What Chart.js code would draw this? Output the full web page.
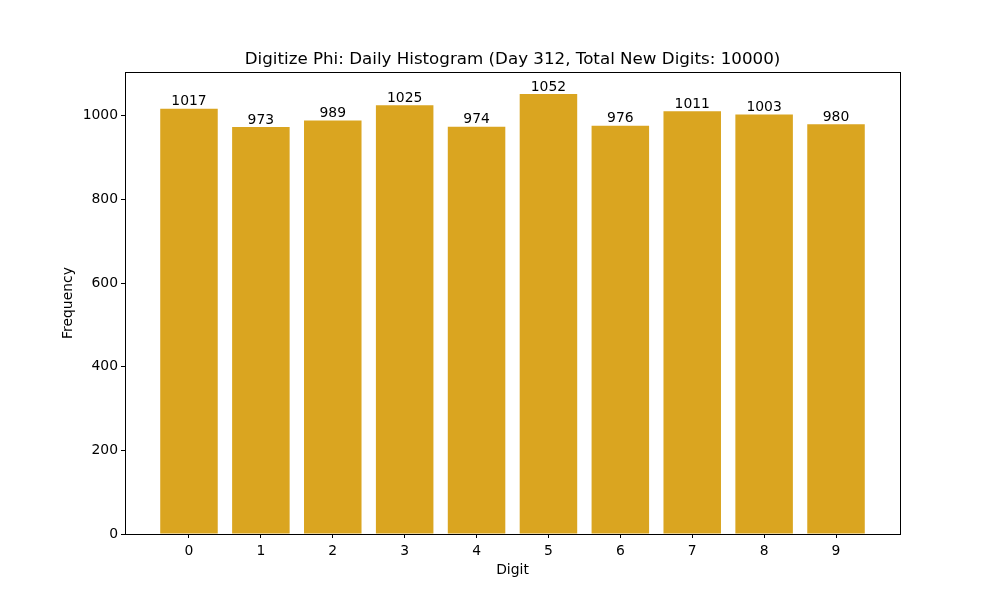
<!DOCTYPE html>
<html>
<head>
<meta charset="utf-8">
<script src="https://cdn.jsdelivr.net/npm/chart.js@4.4.1/dist/chart.umd.min.js"></script>
<style>
  html, body { margin: 0; padding: 0; background: #ffffff; }
  #wrap { width: 1000px; height: 600px; }
</style>
</head>
<body>
<div id="wrap"><canvas id="c" width="1000" height="600"></canvas></div>
<script>
const digits = [0, 1, 2, 3, 4, 5, 6, 7, 8, 9];
const counts = [1017, 973, 989, 1025, 974, 1052, 976, 1011, 1003, 980];
const yTicks = [0, 200, 400, 600, 800, 1000];
const titleText = 'Digitize Phi: Daily Histogram (Day 312, Total New Digits: 10000)';

const FONT = "'DejaVu Sans', sans-serif";
const FS = 13.9;

const frameAndLabels = {
  id: 'frameAndLabels',
  afterDatasetsDraw(chart) {
    const ctx = chart.ctx;
    const a = chart.chartArea;
    ctx.save();
    ctx.strokeStyle = '#000';
    ctx.lineWidth = 1;
    ctx.strokeRect(Math.round(a.left) + 0.5, Math.round(a.top) + 0.5,
                   Math.round(a.right - a.left), Math.round(a.bottom - a.top));
    ctx.fillStyle = '#000';
    ctx.font = FS + 'px ' + FONT;
    ctx.textAlign = 'center';
    ctx.textBaseline = 'bottom';
    const meta = chart.getDatasetMeta(0);
    meta.data.forEach((bar, i) => {
      ctx.fillText(String(counts[i]), bar.x, bar.y);
    });
    ctx.restore();
  }
};

new Chart(document.getElementById('c'), {
  type: 'bar',
  data: {
    datasets: [{
      data: digits.map((d, i) => ({ x: d, y: counts[i] })),
      backgroundColor: '#DAA520',
      borderColor: '#DAA520',
      borderWidth: 0,
      barPercentage: 0.8,
      categoryPercentage: 1.0
    }]
  },
  options: {
    responsive: false,
    animation: false,
    devicePixelRatio: 1,
    layout: { padding: { left: 0, right: 100, top: 0, bottom: 0 } },
    plugins: {
      legend: { display: false },
      tooltip: { enabled: false },
      title: {
        display: true,
        text: titleText,
        fullSize: false,
        color: '#000',
        font: { family: FONT, size: 16.7, weight: 'normal' },
        padding: { top: 50, bottom: 2 }
      }
    },
    scales: {
      x: {
        type: 'linear',
        min: -0.89,
        max: 9.89,
        offset: false,
        afterBuildTicks(scale) { scale.ticks = digits.map(v => ({ value: v })); },
        afterFit(scale) { scale.height = 66; },
        grid: { display: true, offset: false, drawOnChartArea: false, drawTicks: true, tickLength: 4, tickColor: '#000' },
        border: { display: false },
        ticks: { color: '#000', font: { family: FONT, size: FS }, padding: 5, maxRotation: 0,
                 callback: v => String(v) },
        title: { display: true, text: 'Digit', color: '#000',
                 font: { family: FONT, size: FS }, padding: { top: 0, bottom: 21 } }
      },
      y: {
        type: 'linear',
        min: 0,
        max: 1104.6,
        afterBuildTicks(scale) { scale.ticks = yTicks.map(v => ({ value: v })); },
        afterFit(scale) { scale.width = 125; },
        grid: { display: true, offset: false, drawOnChartArea: false, drawTicks: true, tickLength: 4, tickColor: '#000' },
        border: { display: false },
        ticks: { color: '#000', font: { family: FONT, size: FS }, padding: 3,
                 callback: v => String(v) },
        title: { display: true, text: 'Frequency', color: '#000',
                 font: { family: FONT, size: FS }, padding: { top: 60, bottom: 0 } }
      }
    }
  },
  plugins: [frameAndLabels]
});
</script>
</body>
</html>
